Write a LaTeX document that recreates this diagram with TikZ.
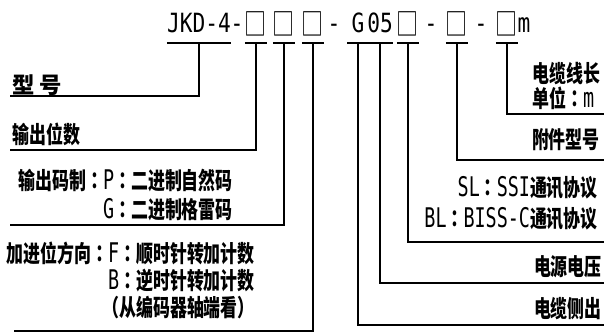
\documentclass[tikz,border=0pt]{standalone}
\usepackage{fontspec}
\newfontfamily\cjk[FakeStretch=0.72]{Noto Sans CJK SC}
\newfontfamily\cjkjp[FakeStretch=0.72]{Noto Sans CJK JP}
\newfontfamily\cjkwide{Noto Sans CJK SC}
\newfontfamily\latn[FakeStretch=0.68]{DejaVu Sans Mono}
\newfontfamily\ttlfont[FakeStretch=0.8]{DejaVu Sans Mono}
\newcommand{\la}[1]{{\fontsize{23pt}{23pt}\latn\mdseries #1}}
\newcommand{\zcol}{{\cjkjp ：}}
\tikzset{
	part/.style={anchor=base, font={\fontsize{22.5pt}{22.5pt}\ttlfont},
			inner xsep=0pt, inner ysep=8.5pt, text depth=0pt, minimum width=17.5pt},
	sq/.style={part, inner ysep=5.9pt, font={\fontsize{26pt}{26pt}\cjk}},
	lbl/.style={inner sep=0pt, font={\fontsize{20pt}{#1}\cjk\bfseries}},
	lbl/.default=24pt,
	lead/.style={line width=1.6pt}
}

\begin{document}
\begin{tikzpicture}[x=0.85pt, y=-0.85pt]
	\useasboundingbox (0,0) rectangle (606,334);
	% Code string
	\node[part] (jkd) at (199,33) {JKD-4};
	\node[part] (h1) at (237,33) {-};
	\node[sq] (s1) at (256,36) {□};
	\node[sq] (s2) at (284,36) {□};
	\node[sq] (s3) at (313,36) {□};
	\node[part] (h2) at (334,33) {-};
	\node[part] (g) at (358,33) {G};
	\node[part] (v) at (380,33) {05};
	\node[sq] (s4) at (408,36) {□};
	\node[part] (h3) at (431,33) {-};
	\node[sq] (s5) at (457,36) {□};
	\node[part] (h4) at (481,33) {-};
	\node[sq] (s6) at (507,36) {□};
	\node[part] (m) at (524,33) {m};
	% Left labels
	\node[lbl, anchor=west, font={\fontsize{19pt}{19pt}\cjkwide\bfseries}] (xh) at (12,85) {型 号};
	\node[lbl, anchor=west] (ws) at (12,134) {输出位数};
	\node[lbl=24.7pt, anchor=north east, align=right] (mz) at (233,169)
		{输出码制\zcol\la{P}\zcol 二进制自然码\\\la{G}\zcol 二进制格雷码};
	\node[lbl=23pt, anchor=north east, align=right] (fx) at (255,242)
		{加进位方向\zcol\la{F}\zcol 顺时针转加计数\\\la{B}\zcol 逆时针转加计数\\（从编码器轴端看）};
	% Right labels
	\node[lbl=21.3pt, anchor=north west, align=left] (cd) at (532,62) {电缆线长\\单位\zcol\la{m}};
	\node[lbl, anchor=east] (fj) at (600,140) {附件型号};
	\node[lbl=26.4pt, anchor=north east, align=right] (xy) at (598,176)
		{\la{SL}\zcol\la{SSI}通讯协议\\\la{BL}\zcol\la{BISS-C}通讯协议};
	\node[lbl, anchor=east] (dy) at (602,267) {电源电压};
	\node[lbl, anchor=east] (cc) at (602,309) {电缆侧出};
	% Line ends
	\coordinate (e1) at (10,96);
	\coordinate (e2) at (10,150);
	\coordinate (e3) at (10,225);
	\coordinate (e4) at (14,331);
	\coordinate (e5) at (604,325);
	\coordinate (e6) at (604,283);
	\coordinate (e7) at (604,242);
	\coordinate (e8) at (604,160);
	\coordinate (e9) at (604,114);
	% Leaders
	\draw[lead] (jkd.south west) -- (jkd.south east) (jkd.south) |- (e1);
	\draw[lead] (s1.south west) -- (s1.south east) (s1.south) |- (e2);
	\draw[lead] (s2.south west) -- (s2.south east) (s2.south) |- (e3);
	\draw[lead] (s3.south west) -- (s3.south east) (s3.south) |- (e4);
	\draw[lead] (g.south west) -- (g.south east) (g.south) |- (e5);
	\draw[lead] (v.south west) -- (v.south east) (v.south) |- (e6);
	\draw[lead] (s4.south west) -- (s4.south east) (s4.south) |- (e7);
	\draw[lead] (s5.south west) -- (s5.south east) (s5.south) |- (e8);
	\draw[lead] (s6.south west) -- (s6.south east) (s6.south) |- (e9);
\end{tikzpicture}
\end{document}
